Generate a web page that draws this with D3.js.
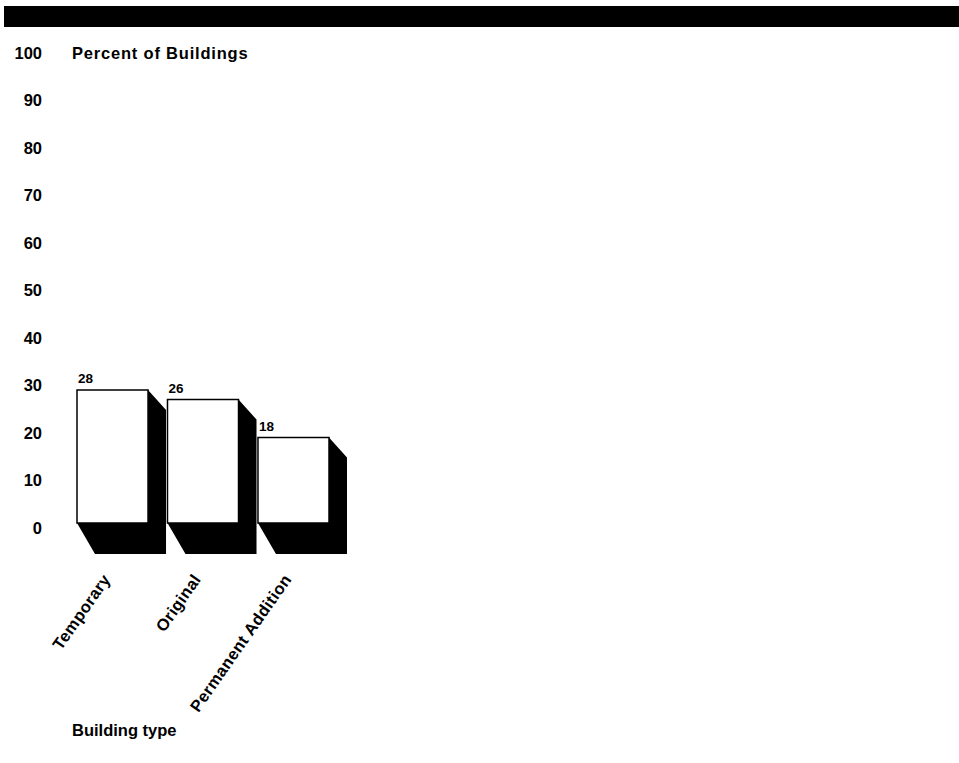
<!DOCTYPE html>
<html>
<head>
<meta charset="utf-8">
<script src="https://cdn.jsdelivr.net/npm/d3@7"></script>
<style>
  html, body { margin: 0; padding: 0; background: #fff; }
  svg { display: block; }
  text { font-family: "Liberation Sans", Arial, Helvetica, sans-serif; font-weight: bold; fill: #000; }
</style>
</head>
<body>
<svg id="chart" width="959" height="763"></svg>
<script>
// ---- data ----
const categories = ["Temporary", "Original", "Permanent Addition"];
const values = [28, 26, 18];
const yTicks = [0, 10, 20, 30, 40, 50, 60, 70, 80, 90, 100];
const yTitle = "Percent of Buildings";
const xTitle = "Building type";

// ---- layout ----
const W = 959, H = 763;
const svg = d3.select("#chart");

// top black banner
svg.append("rect").attr("x", 4).attr("y", 6).attr("width", W - 4).attr("height", 21).attr("fill", "#000");

const y = d3.scaleLinear().domain([0, 100]).range([523, 48]);
const x = d3.scaleBand().domain(categories).range([77, 329]).paddingInner(0.215).paddingOuter(0).align(0);

// y axis (labels only)
const yAxis = d3.axisLeft(y).tickValues(yTicks).tickSize(0).tickPadding(0);
const gy = svg.append("g").attr("transform", "translate(42,5)").call(yAxis);
gy.select(".domain").remove();
gy.selectAll("text").attr("font-size", 16.5).attr("font-family", "Liberation Sans, Arial, sans-serif").attr("font-weight", "bold").attr("fill", "#000");

// y title
svg.append("text").attr("x", 72).attr("y", 59).attr("font-size", 16.5).attr("letter-spacing", 0.8).text(yTitle);

// bars with shadow
const dx = 18, dyTop = 20, dyBot = 31;
const bars = svg.append("g");
categories.forEach((c, i) => {
  const x0 = x(c), x1 = x(c) + x.bandwidth();
  const yt = y(values[i]), yb = y(0);
  const pts = [[x1, yt], [x1 + dx, yt + dyTop], [x1 + dx, yb + dyBot], [x0 + dx, yb + dyBot], [x0, yb], [x1, yb]];
  bars.append("path").attr("d", d3.line()(pts) + "Z").attr("fill", "#000");
  bars.append("rect").attr("x", x0).attr("y", yt).attr("width", x1 - x0).attr("height", yb - yt)
    .attr("fill", "#fff").attr("stroke", "#000").attr("stroke-width", 1.5);
  svg.append("text").attr("x", x0 + 1).attr("y", yt - 7).attr("font-size", 13.5).text(values[i]);
});

// category labels (rotated)
const xAxis = d3.axisBottom(x).tickSize(0).tickPadding(0);
const gx = svg.append("g").attr("transform", "translate(0,576)").call(xAxis);
gx.select(".domain").remove();
gx.selectAll("text")
  .attr("font-size", 16.5).attr("font-family", "Liberation Sans, Arial, sans-serif").attr("font-weight", "bold").attr("fill", "#000")
  .attr("letter-spacing", 0.4)
  .attr("text-anchor", "end").attr("dy", "0.35em")
  .attr("transform", "translate(-6,0) rotate(-55)");

// x title
svg.append("text").attr("x", 72).attr("y", 736).attr("font-size", 16.5).text(xTitle);
</script>
</body>
</html>
